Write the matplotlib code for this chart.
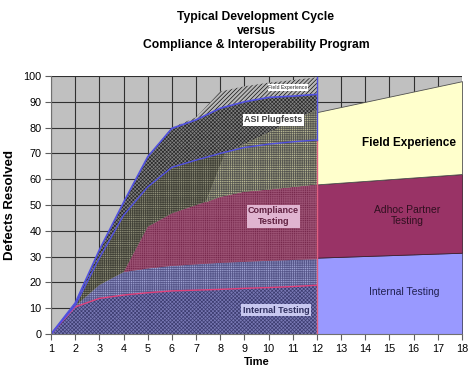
import matplotlib.pyplot as plt
from matplotlib.patches import Polygon

plt.rcParams["font.family"] = ["Liberation Sans", "DejaVu Sans"]
plt.rcParams["hatch.linewidth"] = 0.5

# development cycle, time 1..12 (cumulative tops of each band)
t_dev = [1, 2, 3, 4, 5, 6, 7, 8, 9, 10, 11, 12]
internal_dev = [0, 10.5, 13.8, 15.1, 16, 16.7, 17, 17.3, 17.7, 18, 18.4, 18.9]
partner_dev = [0, 10.8, 19, 24, 25.4, 26.4, 27, 27.6, 28, 28.4, 28.7, 29]
compliance_dev = [0, 10.8, 19, 24, 41.6, 46.8, 50, 53.2, 55.2, 56, 57, 58]
interop_dev = [0, 11, 29.4, 46, 57, 64.6, 67.4, 70, 72.3, 73.6, 74.5, 75.2]
asi_dev = [0, 12, 32.6, 51, 68.7, 79.7, 83, 87.5, 90, 91.7, 92.2, 92.9]
field_dev = [0, 12, 32.6, 51, 68.7, 80, 84, 94, 96, 97.4, 98.4, 99.5]

# lighter overlap patch edge (time, defects)
overlap_t = [7.4, 8.2, 12]
overlap_y = [51, 70, 87]

# compliance & interoperability program, time 12..18
t_prog = [12, 18]
internal_prog = [29.6, 31.5]
adhoc_prog = [58, 62]
field_prog = [86, 98]

fig = plt.figure(figsize=(4.74, 3.78), dpi=100)
ax = fig.add_axes([0.1076, 0.1164, 0.8671, 0.6825])
ax.set_facecolor("#c0c0c0")
ax.set_axisbelow(True)
ax.grid(True, color="#303030", linewidth=0.8)

# left hatched bands
ax.fill_between(t_dev, 0, internal_dev, facecolor="#7878b4", edgecolor="#3c3c70",
                hatch="xxxxxxxxx", linewidth=0)
ax.fill_between(t_dev, internal_dev, partner_dev, facecolor="#a0a4d4", edgecolor="#56568a",
                hatch="+++++++++", linewidth=0)
ax.fill_between(t_dev, partner_dev, compliance_dev, facecolor="#76284c", edgecolor="#9a5072",
                hatch="+++++++++", linewidth=0)
ax.fill_between(t_dev, compliance_dev, interop_dev, facecolor="#92927c", edgecolor="#424238",
                hatch="+++++++++", linewidth=0)
ax.fill_between(t_dev, interop_dev, asi_dev, facecolor="#808080", edgecolor="#2a2a2a",
                hatch="xxxxxxxxx", linewidth=0)
ax.fill_between(t_dev, asi_dev, field_dev, facecolor="#b8b8b8", edgecolor="#101010",
                hatch="////////", linewidth=0)

# lighter khaki overlap region
pts = [(overlap_t[0], overlap_y[0])]
pts += [(t, c) for t, c in zip(t_dev, compliance_dev) if t > overlap_t[0]]
pts += [(overlap_t[2], overlap_y[2]), (overlap_t[1], overlap_y[1])]
ax.add_patch(Polygon(pts, closed=True, facecolor="#bcbc96", edgecolor="#555550",
                     hatch="+++++++++", linewidth=0))

ax.plot(t_dev, internal_dev, color="#e0407a", linewidth=1.0)
ax.plot(t_dev, interop_dev, color="#5050e0", linewidth=1.0)
ax.plot(t_dev, asi_dev, color="#5050e0", linewidth=1.2)
ax.plot([12, 12], [0, 75.2], color="#e06080", linewidth=1.0)
ax.plot([12, 12], [75.2, 99.5], color="#5050e0", linewidth=1.0)

# right solid bands
ax.fill_between(t_prog, 0, internal_prog, facecolor="#9999ff", edgecolor="#404060", linewidth=0.6)
ax.fill_between(t_prog, internal_prog, adhoc_prog, facecolor="#993366", edgecolor="#402030", linewidth=0.6)
ax.fill_between(t_prog, adhoc_prog, field_prog, facecolor="#ffffcc", edgecolor="#505050", linewidth=0.6)

# band labels
ax.text(10.8, 95.6, "Field Experience", fontsize=3.5, fontweight="bold", color="#606060",
        ha="center", va="center",
        bbox=dict(boxstyle="square,pad=0.15", facecolor="white", edgecolor="none"))
ax.text(10.2, 83, "ASI Plugfests", fontsize=6.5, fontweight="bold", color="#404040",
        ha="center", va="center",
        bbox=dict(boxstyle="square,pad=0.15", facecolor="white", edgecolor="none"))
ax.text(10.2, 45.7, "Compliance\nTesting", fontsize=6.5, fontweight="bold", color="#602040",
        ha="center", va="center", linespacing=1.3,
        bbox=dict(boxstyle="square,pad=0.15", facecolor="#e0b4d0", edgecolor="none"))
ax.text(10.3, 9.3, "Internal Testing", fontsize=6.5, fontweight="bold", color="#303060",
        ha="center", va="center",
        bbox=dict(boxstyle="square,pad=0.2", facecolor="#c8c8f0", edgecolor="none"))

ax.text(15.8, 74, "Field Experience", fontsize=8.5, fontweight="bold", color="black",
        ha="center", va="center")
ax.text(15.75, 46, "Adhoc Partner\nTesting", fontsize=7.5, color="#301020",
        ha="center", va="center", linespacing=1.2)
ax.text(15.6, 16.4, "Internal Testing", fontsize=7.5, color="#202050",
        ha="center", va="center")

ax.set_xlim(1, 18)
ax.set_ylim(0, 100)
ax.set_xticks(range(1, 19))
ax.set_yticks(range(0, 101, 10))
ax.tick_params(direction="out", length=4, width=0.8, color="#606060", labelsize=7.8, pad=3)
for side in ["top", "right"]:
    ax.spines[side].set_visible(False)
for side in ["left", "bottom"]:
    ax.spines[side].set_color("#707070")

ax.set_xlabel("Time", fontsize=8, fontweight="bold", labelpad=2)
ax.set_ylabel("Defects Resolved", fontsize=9.5, fontweight="bold", labelpad=5)

fig.text(0.54, 0.918, "Typical Development Cycle\nversus\nCompliance & Interoperability Program",
         fontsize=8.7, fontweight="bold", ha="center", va="center", linespacing=1.25)

fig.savefig("out.png", dpi=100)
